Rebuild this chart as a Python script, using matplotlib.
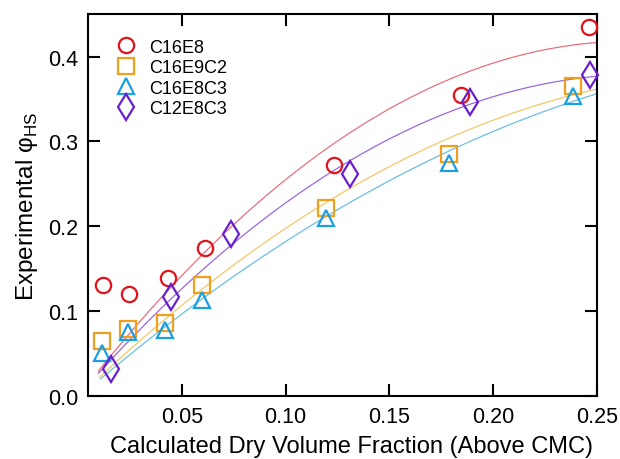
import numpy as np
import matplotlib
matplotlib.use("Agg")
import matplotlib.pyplot as plt

plt.rcParams['font.family'] = ['Liberation Sans', 'DejaVu Sans']
plt.rcParams['mathtext.fontset'] = 'custom'
plt.rcParams['mathtext.rm'] = 'Liberation Sans'

series_names = ["C16E8", "C16E9C2", "C16E8C3", "C12E8C3"]

# Data points
c16e8_x = [0.0119, 0.0246, 0.0431, 0.0612, 0.1231, 0.1845, 0.2460]
c16e8_y = [0.131, 0.120, 0.139, 0.174, 0.272, 0.355, 0.435]

c16e9c2_x = [0.0117, 0.0240, 0.0419, 0.0596, 0.1194, 0.1789, 0.2385]
c16e9c2_y = [0.065, 0.079, 0.086, 0.131, 0.221, 0.285, 0.365]

c16e8c3_x = [0.0117, 0.0240, 0.0419, 0.0599, 0.1194, 0.1789, 0.2385]
c16e8c3_y = [0.051, 0.075, 0.078, 0.113, 0.210, 0.275, 0.354]

c12e8c3_x = [0.0159, 0.0447, 0.0736, 0.1311, 0.1887, 0.2464]
c12e8c3_y = [0.032, 0.117, 0.191, 0.262, 0.346, 0.378]

# Fit curve knots
red_fit_x = [0.0098, 0.0589, 0.1006, 0.1263, 0.189, 0.25]
red_fit_y = [0.030, 0.1635, 0.256, 0.303, 0.3836, 0.4163]
purple_fit_x = [0.0098, 0.0589, 0.1183, 0.1263, 0.189, 0.25]
purple_fit_y = [0.026, 0.148, 0.256, 0.2716, 0.344, 0.377]
orange_fit_x = [0.0103, 0.0589, 0.1263, 0.1312, 0.189, 0.25]
orange_fit_y = [0.022, 0.126, 0.236, 0.242, 0.320, 0.360]
blue_fit_x = [0.0108, 0.0589, 0.1312, 0.189, 0.25]
blue_fit_y = [0.019, 0.1164, 0.2225, 0.305, 0.355]

xticks = [0.05, 0.10, 0.15, 0.20, 0.25]
yticks = [0.0, 0.1, 0.2, 0.3, 0.4]

marker_colors = ['#e3121b', '#f0a01e', '#1c9fe0', '#6a1fcf']
line_colors = ['#e8707e', '#f3c866', '#6cbfe3', '#9a68dd']
markers = ['o', 's', '^', 'd']
msizes = [11, 11, 12, 13.5]

fig = plt.figure(figsize=(6.2, 4.6), dpi=100)
ax = fig.add_axes([0.142, 0.137, 0.821, 0.830])

data = [(c16e8_x, c16e8_y), (c16e9c2_x, c16e9c2_y), (c16e8c3_x, c16e8c3_y), (c12e8c3_x, c12e8c3_y)]
fits = [(red_fit_x, red_fit_y), (orange_fit_x, orange_fit_y), (blue_fit_x, blue_fit_y), (purple_fit_x, purple_fit_y)]

for (fx, fy), lc in zip(fits, line_colors):
    coef = np.polyfit(fx, fy, 2)
    xs = np.linspace(min(fx), max(fx), 200)
    ax.plot(xs, np.polyval(coef, xs), color=lc, lw=0.9, zorder=2)

handles = []
for (x, y), name, mc, mk, ms in zip(data, series_names, marker_colors, markers, msizes):
    h, = ax.plot(x, y, linestyle='none', marker=mk, markersize=ms, markerfacecolor='none',
                 markeredgecolor=mc, markeredgewidth=1.6, label=name, zorder=3, clip_on=False)
    handles.append(h)

ax.set_xlim(0.0048, 0.25)
ax.set_ylim(0.0, 0.45)
ax.set_xticks(xticks)
ax.set_xticklabels([f"{t:.2f}" for t in xticks])
ax.set_yticks(yticks)
ax.set_yticklabels([f"{t:.1f}" for t in yticks])

ax.tick_params(direction='in', length=8.5, width=1.5, labelsize=15.5, top=True, right=True,
               pad=7)
for sp in ax.spines.values():
    sp.set_linewidth(1.5)

ax.set_xlabel('Calculated Dry Volume Fraction (Above CMC)', fontsize=17)
ax.xaxis.set_label_coords(0.518, -0.102)
ax.set_ylabel('Experimental φ$_{\\mathregular{HS}}$', fontsize=17.5, labelpad=6)

leg = ax.legend(handles=handles, loc='upper left', bbox_to_anchor=(0.043, 0.955), frameon=False,
                fontsize=13, handlelength=1.0, handletextpad=0.75, labelspacing=0.2,
                borderaxespad=0.0)

fig.savefig('out.png', dpi=100)
